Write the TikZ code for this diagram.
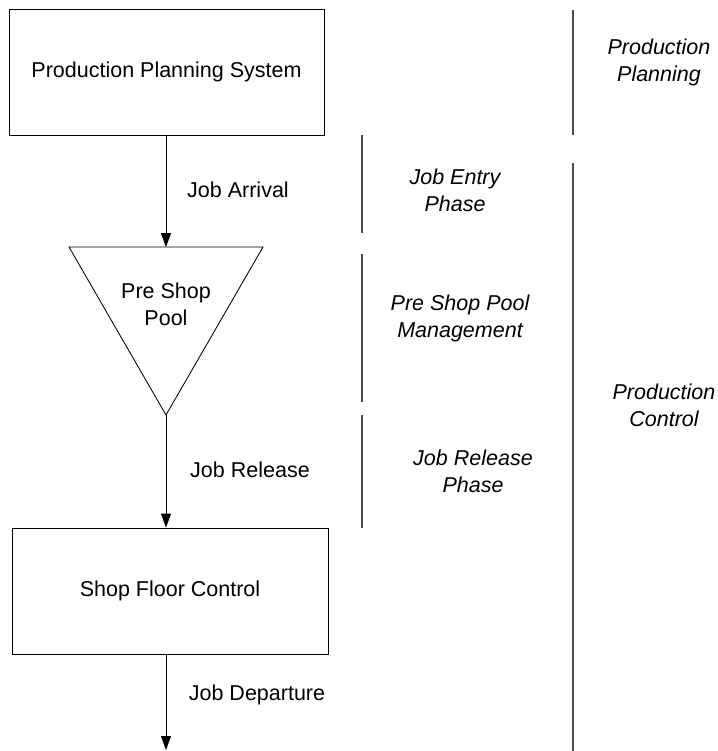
\documentclass[tikz,border=0pt]{standalone}
\usepackage{fontspec}
\setmainfont{Liberation Sans}
\usetikzlibrary{arrows.meta}
\begin{document}
\begin{tikzpicture}[x=1pt,y=-1pt,
  every node/.style={font=\fontsize{21.5}{27}\selectfont, inner sep=0pt},
  blockbox/.style={draw=black, line width=0.85pt, rectangle, anchor=center},
  flow/.style={draw=black, line width=0.85pt, -{Triangle[length=14pt,width=10pt]}},
  phase/.style={font=\fontsize{21.5}{27}\selectfont\itshape, align=center},
  divider/.style={draw=black!70, line width=1.2pt},
  flowlabel/.style={anchor=center}
]
\useasboundingbox (0,0) rectangle (717,751);

% blocks
\node[blockbox, minimum width=315pt, minimum height=126pt] (pps) at (166.5,72) {Production Planning System};
\node[blockbox, minimum width=316pt, minimum height=126pt] (sfc) at (170,591) {Shop Floor Control};

% pre shop pool (inverted triangle)
\coordinate (poolL) at (69,247);
\coordinate (poolR) at (263,247);
\coordinate (poolB) at (166,415);
\coordinate (poolT) at (166,247);
\draw[line width=0.85pt, line join=miter] (poolL) -- (poolR) -- (poolB) -- cycle;
\node[align=center] (pooltxt) at (166,304) {Pre Shop\\Pool};

% flow connectors
\draw[flow] (pps.south -| poolT) -- (poolT);
\draw[flow] (poolB) -- (poolB |- sfc.north);
\coordinate (exit) at (166,750);
\draw[flow] (sfc.south -| exit) -- (exit);

\node[flowlabel] (arr) at (238,190) {Job Arrival};
\node[flowlabel] (rel) at (250,470) {Job Release};
\node[flowlabel] (dep) at (257,695) {Job Departure};

% phase dividers
\coordinate (d1a) at (573,10);  \coordinate (d1b) at (573,135);
\coordinate (d2a) at (573,163); \coordinate (d2b) at (573,751);
\coordinate (e1a) at (362,135); \coordinate (e1b) at (362,233);
\coordinate (e2a) at (362,254); \coordinate (e2b) at (362,402);
\coordinate (e3a) at (362,415); \coordinate (e3b) at (362,528);
\draw[divider] (d1a) -- (d1b);
\draw[divider] (d2a) -- (d2b);
\draw[divider] (e1a) -- (e1b);
\draw[divider] (e2a) -- (e2b);
\draw[divider] (e3a) -- (e3b);

% phase labels
\node[phase] (pplan) at (659,62) {Production\\Planning};
\node[phase] (entry) at (455,190) {Job Entry\\Phase};
\node[phase] (poolmgmt) at (460,318) {Pre Shop Pool\\Management};
\node[phase] (relph) at (473,471) {Job Release\\Phase};
\node[phase] (pctrl) at (664,405) {Production\\Control};
\end{tikzpicture}
\end{document}
